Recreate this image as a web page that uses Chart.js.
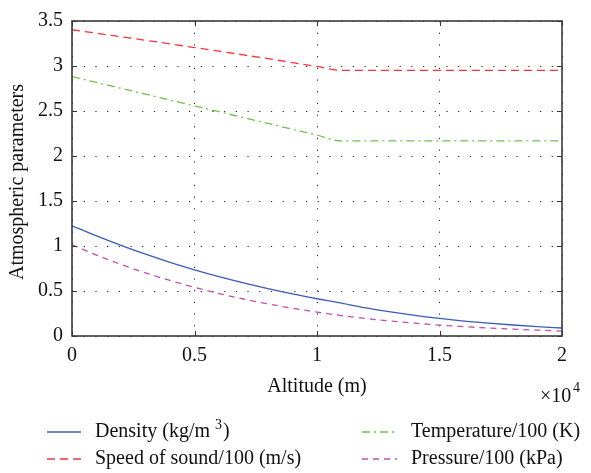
<!DOCTYPE html>
<html>
<head>
<meta charset="utf-8">
<script src="https://cdn.jsdelivr.net/npm/chart.js@4/dist/chart.umd.min.js"></script>
<style>
  html, body { margin: 0; padding: 0; background: #fff; }
  canvas { display: block; }
</style>
</head>
<body>
<canvas id="chart" width="591" height="473"></canvas>
<script>
'use strict';

// ── Data (standard atmosphere) ────────────────────────────────
const altitude = [0, 1000, 2000, 3000, 4000, 5000, 6000, 7000, 8000, 9000, 10000,
                  11000, 12000, 13000, 14000, 15000, 16000, 17000, 18000, 19000, 20000];
const density = [1.225, 1.112, 1.007, 0.909, 0.819, 0.736, 0.660, 0.590, 0.526, 0.467, 0.414,
                 0.365, 0.312, 0.267, 0.228, 0.195, 0.166, 0.142, 0.122, 0.104, 0.089];
const soundSpeed = [3.403, 3.364, 3.325, 3.286, 3.246, 3.205, 3.165, 3.123, 3.081, 3.038, 2.995,
                    2.951, 2.951, 2.951, 2.951, 2.951, 2.951, 2.951, 2.951, 2.951, 2.951];
const temperature = [2.882, 2.817, 2.752, 2.687, 2.622, 2.557, 2.492, 2.427, 2.362, 2.297, 2.232,
                     2.167, 2.167, 2.167, 2.167, 2.167, 2.167, 2.167, 2.167, 2.167, 2.167];
const pressure = [1.013, 0.899, 0.795, 0.701, 0.617, 0.540, 0.472, 0.411, 0.357, 0.308, 0.265,
                  0.227, 0.194, 0.166, 0.142, 0.121, 0.104, 0.089, 0.076, 0.065, 0.055];

const xTicks = [0, 5000, 10000, 15000, 20000];
const xTickLabels = ['0', '0.5', '1', '1.5', '2'];
const yTickLabels = ['0', '0.5', '1', '1.5', '2', '2.5', '3', '3.5'];

const FONT = "'Liberation Serif', 'DejaVu Serif', serif";

const COLORS = {
  density:     '#3b5bb5',
  sound:       '#f5333a',
  temperature: '#6fc24a',
  pressure:    '#c050b0',
};

function pts(ys) {
  return altitude.map((x, i) => ({ x, y: ys[i] }));
}

// legend entries: [dataset index, column, row]
const legendLayout = [[0, 0, 0], [1, 0, 1], [2, 1, 0], [3, 1, 1]];

// ── Frame, inward ticks, titles and legend ────────────────────
const decorations = {
  id: 'decorations',
  afterDraw(chart) {
    const { ctx, chartArea: { left, right, top, bottom }, scales: { x, y } } = chart;
    ctx.save();

    // inward tick marks
    ctx.strokeStyle = '#333';
    ctx.lineWidth = 1;
    ctx.setLineDash([]);
    xTicks.forEach(v => {
      const px = Math.round(x.getPixelForValue(v)) + 0.5;
      ctx.beginPath();
      ctx.moveTo(px, bottom); ctx.lineTo(px, bottom - 5);
      ctx.moveTo(px, top); ctx.lineTo(px, top + 5);
      ctx.stroke();
    });
    yTickLabels.forEach(l => {
      const py = Math.round(y.getPixelForValue(parseFloat(l))) + 0.5;
      ctx.beginPath();
      ctx.moveTo(left, py); ctx.lineTo(left + 5, py);
      ctx.moveTo(right, py); ctx.lineTo(right - 5, py);
      ctx.stroke();
    });

    // box
    ctx.strokeStyle = '#3a3a3a';
    ctx.lineWidth = 1.6;
    ctx.strokeRect(left, top, right - left, bottom - top);

    // axis titles
    ctx.fillStyle = '#111';
    ctx.font = `20px ${FONT}`;
    ctx.textAlign = 'center';
    ctx.textBaseline = 'alphabetic';
    ctx.fillText('Altitude (m)', (left + right) / 2, 392);

    ctx.textAlign = 'left';
    ctx.fillText('\u00d710', 540, 402);
    ctx.font = `14px ${FONT}`;
    ctx.fillText('4', 573, 392);

    ctx.save();
    ctx.translate(23, 182);
    ctx.rotate(-Math.PI / 2);
    ctx.font = `20px ${FONT}`;
    ctx.textAlign = 'center';
    ctx.fillText('Atmospheric parameters', 0, 0);
    ctx.restore();

    // legend
    const colX = [[47, 81, 95], [362, 397, 411]];
    const rowY = [432, 459];
    legendLayout.forEach(([di, col, row]) => {
      const ds = chart.data.datasets[di];
      const [x0, x1, tx] = colX[col];
      const yy = rowY[row];
      ctx.strokeStyle = ds.borderColor;
      ctx.lineWidth = ds.borderWidth;
      ctx.setLineDash(ds.borderDash || []);
      ctx.beginPath();
      ctx.moveTo(x0, yy); ctx.lineTo(x1, yy);
      ctx.stroke();
      ctx.setLineDash([]);

      ctx.fillStyle = '#111';
      ctx.textAlign = 'left';
      ctx.textBaseline = 'middle';
      ctx.font = `20px ${FONT}`;
      if (di === 0) {
        const a = 'Density (kg/m ';
        ctx.fillText(a, tx, yy);
        let w = ctx.measureText(a).width;
        ctx.font = `14px ${FONT}`;
        ctx.fillText('3', tx + w, yy - 7);
        w += ctx.measureText('3').width + 1;
        ctx.font = `20px ${FONT}`;
        ctx.fillText(')', tx + w, yy);
      } else {
        ctx.fillText(ds.label, tx, yy);
      }
    });

    ctx.restore();
  },
};

const chart = new Chart(document.getElementById('chart'), {
  type: 'line',
  data: {
    datasets: [
      {
        label: 'Density (kg/m3)',
        data: pts(density),
        borderColor: COLORS.density,
        borderWidth: 1.3,
      },
      {
        label: 'Speed of sound/100 (m/s)',
        data: pts(soundSpeed),
        borderColor: COLORS.sound,
        borderWidth: 1.3,
        borderDash: [8, 5],
      },
      {
        label: 'Temperature/100 (K)',
        data: pts(temperature),
        borderColor: COLORS.temperature,
        borderWidth: 1.3,
        borderDash: [8, 4, 2, 4],
      },
      {
        label: 'Pressure/100 (kPa)',
        data: pts(pressure),
        borderColor: COLORS.pressure,
        borderWidth: 1.3,
        borderDash: [6, 5],
      },
    ],
  },
  options: {
    responsive: false,
    animation: false,
    parsing: false,
    elements: {
      point: { radius: 0 },
      line: { cubicInterpolationMode: 'monotone', fill: false },
    },
    layout: { padding: { top: 12, right: 29, left: 0, bottom: 0 } },
    scales: {
      x: {
        type: 'linear',
        min: 0,
        max: 20000,
        afterFit: s => { s.height = 137; },
        afterBuildTicks: s => { s.ticks = xTicks.map(v => ({ value: v })); },
        grid: { color: '#222', lineWidth: 1, drawTicks: false },
        border: { display: false, dash: [1.2, 10.5] },
        ticks: {
          padding: 8,
          color: '#111',
          font: { family: FONT, size: 20 },
          callback: (v) => xTickLabels[xTicks.indexOf(v)],
        },
      },
      y: {
        min: 0,
        max: 3.5,
        afterFit: s => { s.width = 72; },
        afterBuildTicks: s => { s.ticks = yTickLabels.map(l => ({ value: parseFloat(l) })); },
        grid: { color: '#222', lineWidth: 1, drawTicks: false },
        border: { display: false, dash: [1.2, 10.5] },
        ticks: {
          padding: 9,
          color: '#111',
          font: { family: FONT, size: 20 },
          callback: (v) => yTickLabels.find(l => parseFloat(l) === v),
        },
      },
    },
    plugins: {
      legend: { display: false },
      tooltip: { enabled: false },
    },
  },
  plugins: [decorations],
});
</script>
</body>
</html>
